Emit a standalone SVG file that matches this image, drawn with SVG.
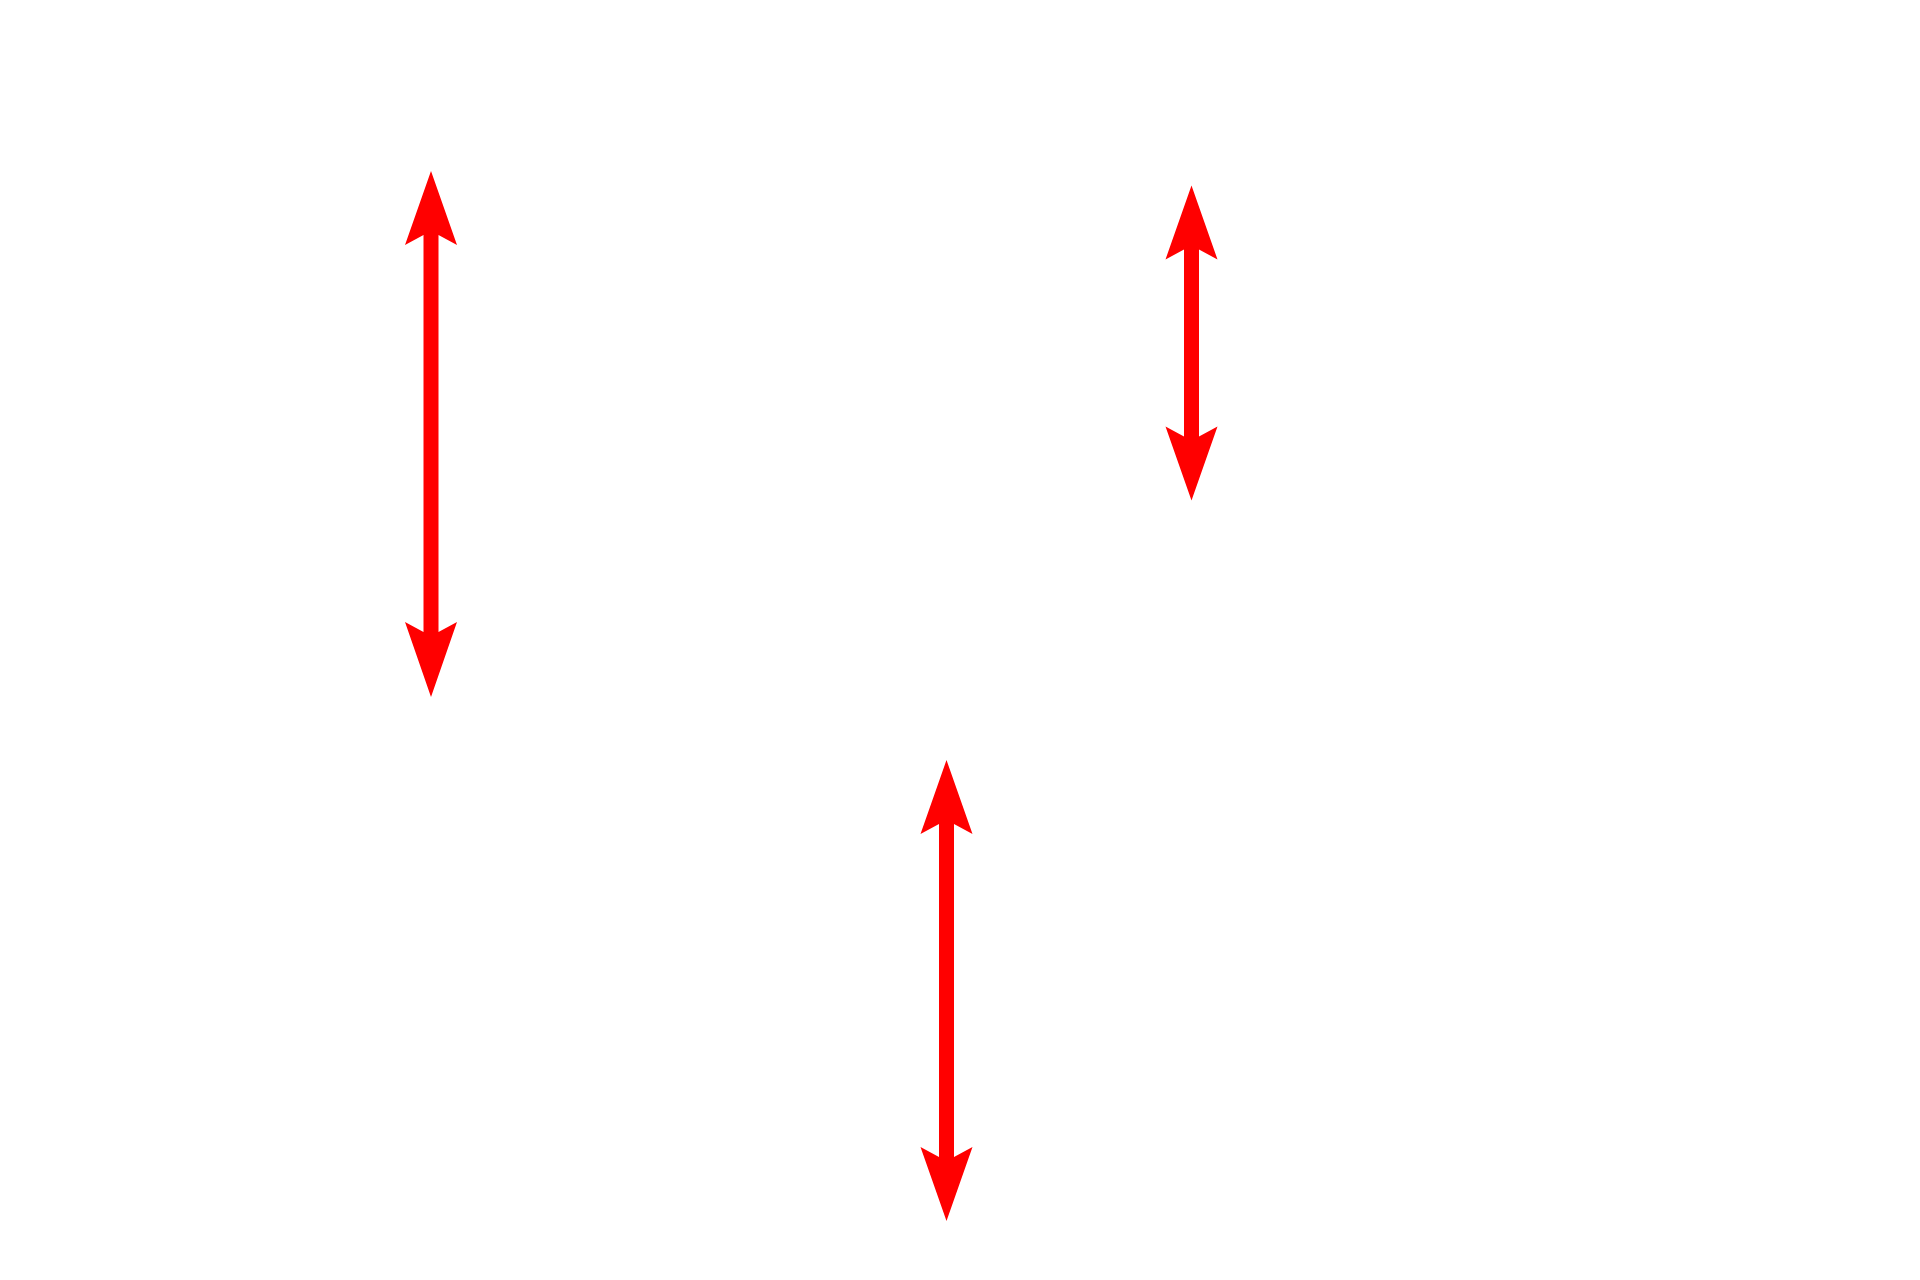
<svg xmlns="http://www.w3.org/2000/svg" width="1920" height="1280" viewBox="0 0 1920 1280">
<style>
.arrow{fill:#ff0000;stroke:none}
</style>
<rect x="0" y="0" width="1920" height="1280" fill="#ffffff"/>
<g id="connectors">
<g id="arrow-1"><polygon class="arrow" points="431,171 457,245 438.5,235 438.5,632 457,622 431,697 405,622 423.5,632 423.5,235 405,245"/></g>
<g id="arrow-2"><polygon class="arrow" points="1191.5,185.5 1217.5,259.5 1199,249.5 1199,436.5 1217.5,426.5 1191.5,500.5 1165.5,426.5 1184,436.5 1184,249.5 1165.5,259.5"/></g>
<g id="arrow-3"><polygon class="arrow" points="946.5,760 972.5,834 954,824 954,1157 972.5,1147 946.5,1221 920.5,1147 939,1157 939,824 920.5,834"/></g>
</g>
</svg>
